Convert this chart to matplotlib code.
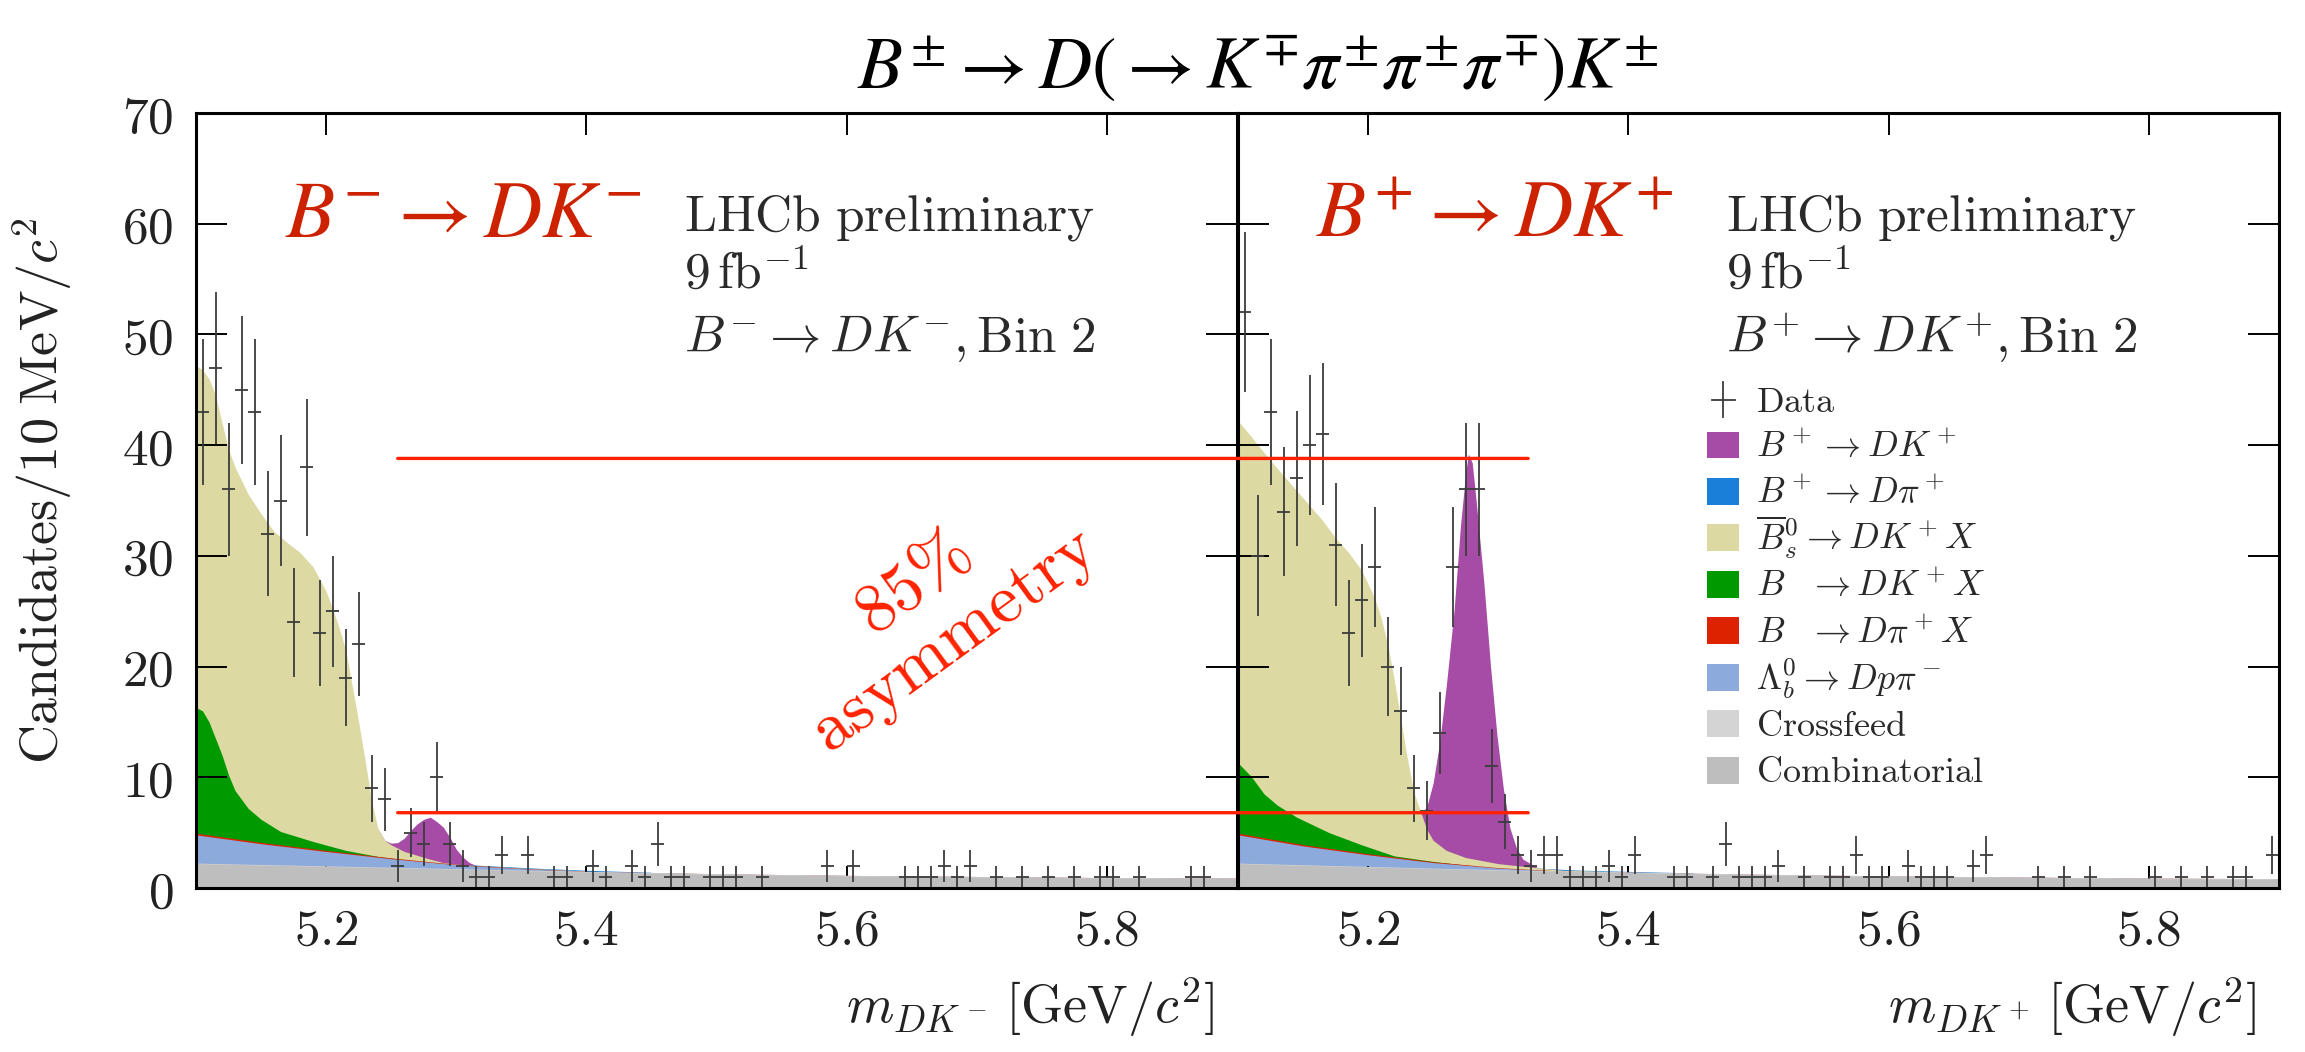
import numpy as np
import matplotlib
matplotlib.use("Agg")
import matplotlib.pyplot as plt
from matplotlib.ticker import FixedLocator, FuncFormatter
from matplotlib.patches import Rectangle, ConnectionPatch
from matplotlib.lines import Line2D

plt.rcParams["mathtext.fontset"] = "cm"
plt.rcParams["font.family"] = ["DejaVu Serif"]

# ---------------- data: B- -> D K- candidates (10 MeV bins) ----------------
mass_minus = [5.105, 5.115, 5.125, 5.135, 5.145, 5.155, 5.165, 5.175, 5.185, 5.195,
              5.205, 5.215, 5.225, 5.235, 5.245, 5.255, 5.265, 5.275, 5.285, 5.295,
              5.305, 5.315, 5.325, 5.335, 5.355, 5.375, 5.385, 5.405, 5.415, 5.435,
              5.445, 5.455, 5.465, 5.475, 5.495, 5.505, 5.515, 5.535, 5.585, 5.605,
              5.645, 5.655, 5.665, 5.675, 5.685, 5.695, 5.715, 5.735, 5.755, 5.775,
              5.795, 5.805, 5.825, 5.865, 5.875]
count_minus = [43, 47, 36, 45, 43, 32, 35, 24, 38, 23,
               25, 19, 22, 9, 8, 2, 5, 4, 10, 4,
               2, 1, 1, 3, 3, 1, 1, 2, 1, 2,
               1, 4, 1, 1, 1, 1, 1, 1, 2, 2,
               1, 1, 1, 2, 1, 2, 1, 1, 1, 1,
               1, 1, 1, 1, 1]

# ---------------- data: B+ -> D K+ candidates (10 MeV bins) ----------------
mass_plus = [5.105, 5.115, 5.125, 5.135, 5.145, 5.155, 5.165, 5.175, 5.185, 5.195,
             5.205, 5.215, 5.225, 5.235, 5.245, 5.255, 5.265, 5.275, 5.285, 5.295,
             5.305, 5.315, 5.325, 5.335, 5.345, 5.355, 5.365, 5.375, 5.385, 5.395,
             5.405, 5.435, 5.445, 5.465, 5.475, 5.485, 5.495, 5.505, 5.515, 5.535,
             5.555, 5.565, 5.575, 5.585, 5.595, 5.615, 5.625, 5.635, 5.645, 5.665,
             5.675, 5.715, 5.735, 5.755, 5.805, 5.825, 5.845, 5.865, 5.875, 5.895]
count_plus = [52, 30, 43, 34, 37, 40, 41, 31, 23, 26,
              29, 20, 16, 9, 7, 14, 29, 36, 36, 11,
              6, 3, 2, 3, 3, 1, 1, 1, 2, 1,
              3, 1, 1, 1, 4, 1, 1, 1, 2, 1,
              1, 1, 3, 1, 1, 2, 1, 1, 1, 2,
              3, 1, 1, 1, 1, 1, 1, 1, 1, 3]

# ---------------- fit components: upper edge of each stacked band ----------------
comb_mass = [5.10, 5.20, 5.30, 5.40, 5.50, 5.60, 5.70, 5.80, 5.90]
comb_top_minus = [2.2, 1.95, 1.7, 1.45, 1.25, 1.1, 1.0, 0.9, 0.85]
comb_top_plus = [2.2, 1.9, 1.6, 1.4, 1.2, 1.05, 0.95, 0.85, 0.8]
xfeed_top_minus = [2.25, 2.0, 1.75, 1.5, 1.3, 1.15, 1.05, 0.95, 0.9]
xfeed_top_plus = [2.25, 1.95, 1.65, 1.45, 1.25, 1.1, 1.0, 0.9, 0.85]

lb_mass = [5.10, 5.15, 5.20, 5.25, 5.30, 5.35, 5.40, 5.45, 5.50, 5.60, 5.70, 5.80, 5.90]
lb_top_minus = [4.8, 4.0, 3.3, 2.65, 2.1, 1.75, 1.5, 1.38, 1.28, 1.13, 1.03, 0.93, 0.88]
lb_top_plus = [4.8, 3.8, 3.0, 2.3, 1.8, 1.5, 1.42, 1.32, 1.23, 1.08, 0.98, 0.88, 0.83]
dpix_top_minus = [4.95, 4.12, 3.4, 2.72, 2.14, 1.77, 1.51, 1.39, 1.29, 1.14, 1.04, 0.94, 0.89]
dpix_top_plus = [4.95, 3.92, 3.1, 2.37, 1.84, 1.52, 1.43, 1.33, 1.24, 1.09, 0.99, 0.89, 0.84]

dkx_mass_minus = [5.100, 5.105, 5.110, 5.115, 5.120, 5.125, 5.130, 5.140, 5.150, 5.165,
                  5.190, 5.215, 5.240, 5.270, 5.300]
dkx_top_minus = [16.3, 16.0, 15.0, 13.5, 12.0, 10.2, 8.8, 7.2, 6.2, 5.1,
                 4.2, 3.4, 2.85, 2.4, 2.0]
dkx_mass_plus = [5.100, 5.110, 5.120, 5.130, 5.145, 5.170, 5.195, 5.220, 5.250, 5.280]
dkx_top_plus = [11.3, 10.1, 8.5, 7.5, 6.4, 5.0, 3.9, 2.9, 2.4, 2.0]

bs_mass_minus = [5.100, 5.105, 5.110, 5.115, 5.120, 5.125, 5.130, 5.140, 5.150, 5.160,
                 5.170, 5.180, 5.190, 5.200, 5.205, 5.210, 5.215, 5.220, 5.225, 5.230,
                 5.235, 5.240, 5.245, 5.250, 5.260, 5.270, 5.280, 5.290, 5.300, 5.320,
                 5.350, 5.400]
bs_top_minus = [47.2, 46.8, 46.0, 44.5, 42.0, 39.6, 38.0, 35.6, 33.8, 32.2,
                31.2, 30.3, 29.0, 26.8, 25.2, 23.5, 21.5, 18.3, 15.0, 11.5,
                7.8, 5.3, 4.3, 3.9, 3.3, 2.95, 2.6, 2.3, 2.15, 2.0,
                1.8, 1.55]
bs_mass_plus = [5.100, 5.110, 5.125, 5.145, 5.165, 5.175, 5.185, 5.195, 5.205, 5.210,
                5.215, 5.220, 5.225, 5.230, 5.235, 5.240, 5.245, 5.250, 5.260, 5.275,
                5.300, 5.320, 5.350, 5.400]
bs_top_plus = [42.2, 40.8, 38.6, 35.9, 33.2, 31.6, 30.3, 28.7, 26.2, 24.4,
               22.0, 18.9, 15.3, 11.8, 8.7, 7.0, 5.3, 4.3, 3.4, 2.75,
               2.2, 1.95, 1.6, 1.45]

dpi_mass = [5.310, 5.330, 5.360, 5.400, 5.450]
dpi_top_minus = [2.1, 1.98, 1.8, 1.6, 1.42]
dpi_top_plus = [2.0, 1.8, 1.62, 1.5, 1.36]

dk_mass_minus = [5.240, 5.245, 5.250, 5.255, 5.260, 5.265, 5.270, 5.275, 5.280, 5.285,
                 5.290, 5.295, 5.300, 5.305, 5.310, 5.315, 5.320, 5.330, 5.340]
dk_top_minus = [5.3, 4.3, 4.05, 4.1, 4.5, 5.2, 5.8, 6.2, 6.4, 6.0,
                5.5, 4.6, 3.5, 2.8, 2.3, 2.05, 1.95, 1.85, 1.75]
dk_mass_plus = [5.240, 5.245, 5.250, 5.255, 5.260, 5.266, 5.271, 5.275, 5.277, 5.280,
                5.283, 5.289, 5.294, 5.299, 5.304, 5.309, 5.314, 5.319, 5.330, 5.340,
                5.350]
dk_top_plus = [6.7, 7.3, 9.5, 13.2, 18.2, 25.0, 32.8, 37.5, 39.2, 38.4,
               35.0, 27.5, 20.1, 13.8, 8.9, 5.4, 3.6, 2.6, 1.85, 1.6,
               1.5]

# reference levels of the two signal peaks, joined across the panels
peak_levels = [38.8, 6.8]

legend_labels = [r"$B^+ \to DK^+$", r"$B^+ \to D\pi^+$", r"$\overline{B}{}^0_s \to DK^+X$",
                 r"$B\enspace\;\to DK^+X$", r"$B\enspace\;\to D\pi^+X$",
                 r"$\Lambda^0_b \to Dp\pi^-$", r"$\mathrm{Crossfeed}$",
                 r"$\mathrm{Combinatorial}$"]
legend_colors = ["#a64ca6", "#1a7fd9", "#dcd9a3", "#009a00", "#dd2200",
                 "#8caadc", "#d4d4d4", "#bebebe"]

x_ticks = [5.2, 5.4, 5.6, 5.8]
y_ticks = [0, 10, 20, 30, 40, 50, 60, 70]

C_DK, C_DPI, C_BS, C_DKX, C_DPIX, C_LB, C_XF, C_COMB = legend_colors

W, H = 2305, 1052
fig = plt.figure(figsize=(W / 100, H / 100), dpi=100)


def px_rect(x0, x1, ytop, ybot):
    return [x0 / W, 1 - ybot / H, (x1 - x0) / W, (ybot - ytop) / H]


ax_m = fig.add_axes(px_rect(196, 1237, 113, 888))
ax_p = fig.add_axes(px_rect(1238, 2279, 113, 888))


def draw_panel(ax, layers, mass, counts, show_ylabels):
    # outermost component first; each band is filled from zero to its upper edge
    for z, (m, top, color) in enumerate(layers):
        ax.fill_between(m, 0, top, color=color, lw=0, zorder=1 + 0.1 * z)
    counts = np.asarray(counts, dtype=float)
    ax.errorbar(mass, counts, yerr=np.sqrt(counts), xerr=0.005, fmt="none",
                ecolor="#3c3c3c", elinewidth=1.3, capsize=0, zorder=3)
    ax.set_xlim(5.1, 5.9)
    ax.set_ylim(0, 70)
    ax.xaxis.set_major_locator(FixedLocator(x_ticks))
    ax.yaxis.set_major_locator(FixedLocator(y_ticks))
    ax.xaxis.set_major_formatter(FuncFormatter(lambda v, p: f"${v:.1f}$"))
    ax.yaxis.set_major_formatter(FuncFormatter(lambda v, p: f"${v:.0f}$"))
    ax.tick_params(axis="x", direction="in", length=16, width=1.4, top=True,
                   bottom=True, pad=13, labelsize=37, labelcolor="#222222")
    ax.tick_params(axis="y", direction="in", length=22, width=1.4, left=True,
                   right=True, pad=16, labelsize=37, labelcolor="#222222",
                   labelleft=show_ylabels)
    for sp in ax.spines.values():
        sp.set_linewidth(2.2)
        sp.set_zorder(4)


layers_minus = [
    (dk_mass_minus, dk_top_minus, C_DK),
    (dpi_mass, dpi_top_minus, C_DPI),
    (bs_mass_minus, bs_top_minus, C_BS),
    (dkx_mass_minus, dkx_top_minus, C_DKX),
    (lb_mass, dpix_top_minus, C_DPIX),
    (lb_mass, lb_top_minus, C_LB),
    (comb_mass, xfeed_top_minus, C_XF),
    (comb_mass, comb_top_minus, C_COMB),
]
layers_plus = [
    (dk_mass_plus, dk_top_plus, C_DK),
    (dpi_mass, dpi_top_plus, C_DPI),
    (bs_mass_plus, bs_top_plus, C_BS),
    (dkx_mass_plus, dkx_top_plus, C_DKX),
    (lb_mass, dpix_top_plus, C_DPIX),
    (lb_mass, lb_top_plus, C_LB),
    (comb_mass, xfeed_top_plus, C_XF),
    (comb_mass, comb_top_plus, C_COMB),
]

draw_panel(ax_m, layers_minus, mass_minus, count_minus, True)
draw_panel(ax_p, layers_plus, mass_plus, count_plus, False)

# axis titles
ax_m.set_ylabel(r"$\mathrm{Candidates}/10\;\mathrm{MeV}/c^2$", fontsize=39, color="#222222")
ax_m.yaxis.set_label_coords(-0.117, 0.512)
ax_m.set_xlabel(r"$m_{DK^-}\,[\mathrm{GeV}/c^2]$", fontsize=39, color="#222222", loc="right")
ax_m.xaxis.set_label_coords(0.978, -0.112)
ax_p.set_xlabel(r"$m_{DK^+}\,[\mathrm{GeV}/c^2]$", fontsize=39, color="#222222", loc="right")
ax_p.xaxis.set_label_coords(0.978, -0.112)

# panel captions
for ax, sign, x_red in ((ax_m, "-", 0.0855), (ax_p, "+", 0.075)):
    ax.text(x_red, 0.84, rf"$B^{{{sign}}} \rightarrow DK^{{{sign}}}$", transform=ax.transAxes,
            fontsize=58, color="#cc2200", va="baseline", ha="left", math_fontfamily="stix",
            zorder=5)
    ax.text(0.469, 0.849, r"$\mathrm{LHCb\ preliminary}$", transform=ax.transAxes,
            fontsize=37, color="#2a2a2a", va="baseline", ha="left", zorder=5)
    ax.text(0.469, 0.774, r"$9\,\mathrm{fb}^{-1}$", transform=ax.transAxes,
            fontsize=37, color="#2a2a2a", va="baseline", ha="left", zorder=5)
    ax.text(0.469, 0.692, rf"$B^{{{sign}}} \to DK^{{{sign}}}, \mathrm{{Bin}}\ 2$",
            transform=ax.transAxes, fontsize=37, color="#2a2a2a", va="baseline",
            ha="left", zorder=5)

# legend of the fit components, drawn in the B+ panel
lx_patch, lw_patch, lh_patch, lx_text = 0.4505, 0.0307, 0.0348, 0.498
y_data = 0.630
ax_p.add_line(Line2D([0.466, 0.466], [y_data - 0.0226, y_data + 0.0226], color="#3c3c3c",
                     lw=1.3, transform=ax_p.transAxes, zorder=5))
ax_p.add_line(Line2D([0.455, 0.477], [y_data, y_data], color="#3c3c3c", lw=1.3,
                     transform=ax_p.transAxes, zorder=5))
ax_p.text(lx_text, y_data - 0.0155, r"$\mathrm{Data}$", transform=ax_p.transAxes,
          fontsize=26, color="#2a2a2a", va="baseline", ha="left", zorder=5)
for k, (lab, col) in enumerate(zip(legend_labels, legend_colors)):
    yc = 0.5716 - 0.05995 * k
    ax_p.add_patch(Rectangle((lx_patch, yc - lh_patch / 2), lw_patch, lh_patch,
                             facecolor=col, edgecolor="none", transform=ax_p.transAxes,
                             zorder=5))
    ax_p.text(lx_text, yc - 0.0155, lab, transform=ax_p.transAxes, fontsize=26,
              color="#2a2a2a", va="baseline", ha="left", zorder=5)

# lines joining the two peak heights across the panels
for lev in peak_levels:
    con = ConnectionPatch(xyA=(5.255, lev), coordsA=ax_m.transData,
                          xyB=(5.323, lev), coordsB=ax_p.transData,
                          color="#ff2200", lw=2.4)
    fig.add_artist(con)

fig.text(0.405, 0.418, "$\\mathrm{85\\%}$\n$\\mathrm{asymmetry}$", color="#ff2200",
         fontsize=50, rotation=36, rotation_mode="anchor", ha="center", va="center",
         multialignment="center", linespacing=1.05)

fig.text(0.5458, 1 - 88 / H,
         r"$B^{\pm} \rightarrow D( \rightarrow K^{\mp}\pi^{\pm}\pi^{\pm}\pi^{\mp})K^{\pm}$",
         fontsize=53, color="black", ha="center", va="baseline", math_fontfamily="stix")

fig.savefig("out.png", dpi=100)
